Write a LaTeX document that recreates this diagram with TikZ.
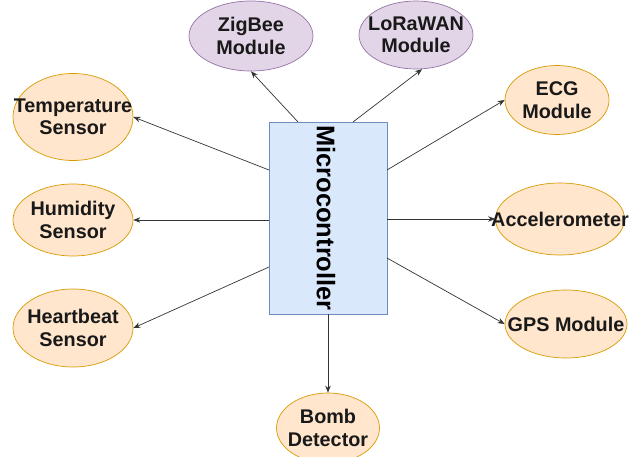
\documentclass[tikz,border=0pt]{standalone}
\usepackage{fontspec}
\setmainfont{Liberation Sans}
\usetikzlibrary{shapes.geometric,arrows.meta}
\definecolor{orfill}{HTML}{FFE6CC}
\definecolor{ordraw}{HTML}{D79B00}
\definecolor{pufill}{HTML}{E1D5E7}
\definecolor{pudraw}{HTML}{9673A6}
\definecolor{blfill}{HTML}{DAE8FC}
\definecolor{bldraw}{HTML}{6C8EBF}
\definecolor{linec}{HTML}{333333}
\tikzset{
  orell/.style={ellipse, draw=ordraw, fill=orfill, line width=0.7pt, inner sep=0pt},
  puell/.style={ellipse, draw=pudraw, fill=pufill, line width=0.7pt, inner sep=0pt},
  lbl/.style={font=\fontsize{19.8}{22.5}\selectfont\bfseries, text=black!90, align=center, inner sep=0pt},
  conn/.style={draw=linec, line width=0.7pt, -{Stealth[length=7pt,width=5.5pt]}},
}
\begin{document}
\begin{tikzpicture}[x=1pt,y=-1pt]
\useasboundingbox (0,0) rectangle (630,457);
% microcontroller box
\node[draw=bldraw, fill=blfill, line width=0.7pt, minimum width=118pt, minimum height=192pt, inner sep=0pt] (mc) at (328,218) {};
\node[font=\fontsize{25.5}{28}\selectfont\bfseries, rotate=-90, inner sep=0pt] (mctext) at (326,218) {Microcontroller};
% ellipses
\node[puell, minimum width=124pt, minimum height=70pt] (zig) at (251,36) {};
\node[lbl] at (zig) {ZigBee\\Module};
\node[puell, minimum width=114pt, minimum height=68pt] (lora) at (416,35) {};
\node[lbl] at (lora) {LoRaWAN\\Module};
\node[orell, minimum width=120pt, minimum height=87pt] (temp) at (73,117) {};
\node[lbl] at (temp) {Temperature\\Sensor};
\node[orell, minimum width=120pt, minimum height=72pt] (hum) at (73,220) {};
\node[lbl] at (hum) {Humidity\\Sensor};
\node[orell, minimum width=120pt, minimum height=78pt] (heart) at (73,328) {};
\node[lbl] at (heart) {Heartbeat\\Sensor};
\node[orell, minimum width=104pt, minimum height=69pt] (ecg) at (557,100) {};
\node[lbl] at (ecg) {ECG\\Module};
\node[orell, minimum width=129pt, minimum height=72pt] (acc) at (560,219) {};
\node[lbl] at (acc) {Accelerometer};
\node[orell, minimum width=122pt, minimum height=68pt] (gps) at (566,324) {};
\node[lbl] at (gps) {GPS Module};
\node[orell, minimum width=103pt, minimum height=70pt] (bomb) at (328,428) {};
\node[lbl] at (bomb) {Bomb\\Detector};
% tail coordinates on the box
\coordinate (tz) at (298,122);
\coordinate (tl) at (353,122);
\coordinate (t1) at (269,170);
\coordinate (t2) at (269,220);
\coordinate (t3) at (269,267);
\coordinate (r1) at (387,170);
\coordinate (r2) at (387,219);
\coordinate (r3) at (387,258);
\coordinate (tb) at (328,314);
% connectors
\draw[conn] (tz) -- (zig.south);
\draw[conn] (tl) -- (lora.-80);
\draw[conn] (t1) -- (temp.east);
\draw[conn] (t2) -- (hum.east);
\draw[conn] (t3) -- (heart.east);
\draw[conn] (r1) -- (ecg.west);
\draw[conn] (r2) -- (acc.west);
\draw[conn] (r3) -- (gps.west);
\draw[conn] (tb) -- (bomb.north);
\end{tikzpicture}
\end{document}
